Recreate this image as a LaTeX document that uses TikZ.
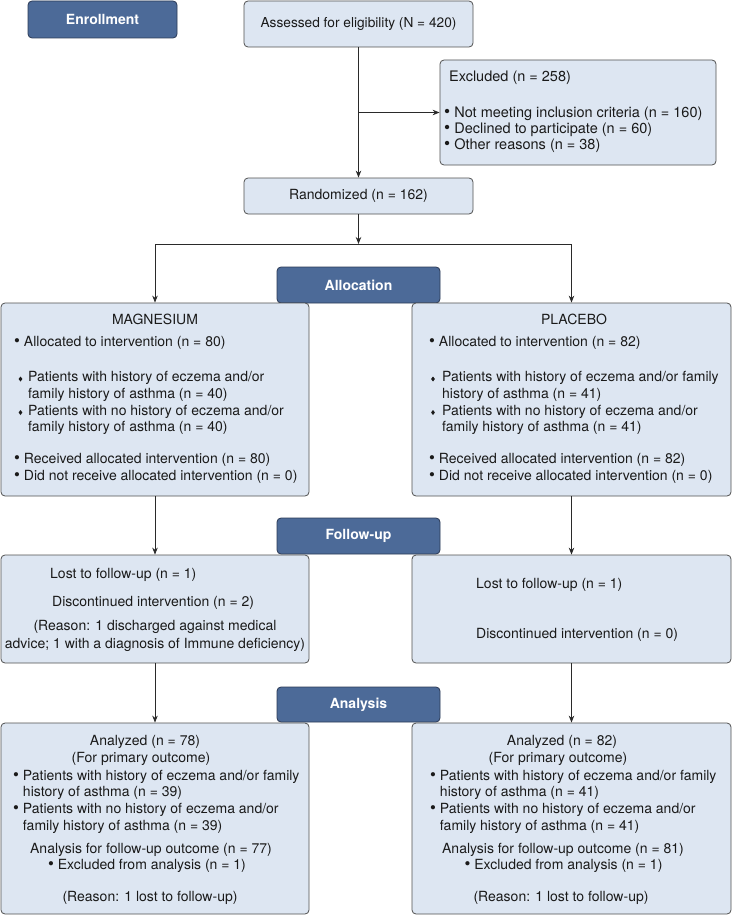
\documentclass[tikz,border=0pt]{standalone}
\usepackage{fontspec}
\setmainfont{TeX Gyre Heros}
\usetikzlibrary{arrows.meta}
\definecolor{hdrfill}{HTML}{4C6A98}
\definecolor{hdrdraw}{HTML}{2B3A55}
\definecolor{boxfill}{HTML}{DDE6F2}
\definecolor{boxdraw}{HTML}{505050}
\definecolor{txtc}{HTML}{1A1A1A}
\definecolor{linec}{HTML}{2A2A2A}
\newcommand{\fs}{\fontsize{14}{16}\selectfont}
\newcommand{\fsx}{\fontsize{14.5}{16}\selectfont}
\newcommand{\bul}{\raisebox{-0.02em}{\scalebox{1.2}{\textbullet}}\ }
\newcommand{\hang}{\phantom{\bul}}
\newcommand{\dm}[2]{\fill[txtc] (#1,#2) +(0,-2.5) -- +(1.9,0) -- +(0,2.5) -- +(-1.9,0) -- cycle;}
\begin{document}
\begin{tikzpicture}[x=1pt,y=-1pt,
  hdr/.style={draw=hdrdraw, fill=hdrfill, rounded corners=4pt, line width=0.8pt, text=white, font=\fs\bfseries, inner sep=0pt},
  lbox/.style={draw=boxdraw, fill=boxfill, rounded corners=4pt, line width=0.8pt, inner sep=0pt, font=\fs, text=txtc},
  tx/.style={inner sep=0pt, text height=10pt, text depth=3pt, font=\fs, text=txtc},
  arr/.style={draw=linec, line width=0.8pt, -{Stealth[length=7pt,width=5.5pt]}},
  ln/.style={draw=linec, line width=0.8pt}]
\useasboundingbox (0,0) rectangle (732,915);

% headers
\node[hdr, minimum width=149pt, minimum height=37pt] (enr) at (102.5,19.5) {Enrollment};
\node[hdr, minimum width=163pt, minimum height=36pt] (alloc) at (358.5,285) {Allocation};
\node[hdr, minimum width=163pt, minimum height=36pt] (fuh) at (358.5,536) {Follow-up};
\node[hdr, minimum width=163pt, minimum height=35pt] (anh) at (358.5,704.5) {Analysis};

% top boxes
\node[lbox, minimum width=229pt, minimum height=46pt, font=\fontsize{13.7}{16}\selectfont] (ass) at (358.5,24) {Assessed for eligibility (N = 420)};
\node[lbox, minimum width=276pt, minimum height=105pt] (exc) at (578,112.5) {};
\node[lbox, minimum width=229pt, minimum height=36pt] (rand) at (358.5,196) {Randomized (n = 162)};

% group boxes
\node[lbox, minimum width=308pt, minimum height=193pt] (mag) at (155,399.5) {};
\node[lbox, minimum width=319pt, minimum height=193pt] (plac) at (571.5,399.5) {};
\node[lbox, minimum width=308pt, minimum height=108pt] (ful) at (155,609) {};
\node[lbox, minimum width=319pt, minimum height=108pt] (fur) at (571.5,609) {};
\node[lbox, minimum width=308pt, minimum height=191pt] (anl) at (155,818.5) {};
\node[lbox, minimum width=319pt, minimum height=191pt] (anr) at (571.5,818.5) {};

% excluded text
\node[tx, font=\fsx, anchor=west] (e1) at (449,78) {Excluded (n = 258)};
\node[tx, font=\fsx, anchor=west] (e2) at (444,114) {\bul Not meeting inclusion criteria (n = 160)};
\node[tx, font=\fsx, anchor=west] (e3) at (444,130) {\bul Declined to participate (n = 60)};
\node[tx, font=\fsx, anchor=west] (e4) at (444,146) {\bul Other reasons (n = 38)};

% magnesium text
\node[tx] (m0) at (155,321) {MAGNESIUM};
\node[tx, anchor=west] (m1) at (14,343) {\bul Allocated to intervention (n = 80)};
\dm{20.5}{379}
\node[tx, anchor=west] (m2) at (28,378) {Patients with history of eczema and/or};
\node[tx, anchor=west] (m3) at (28,395) {family history of asthma (n = 40)};
\dm{20.5}{412.5}
\node[tx, anchor=west] (m4) at (28,412) {Patients with no history of eczema and/or};
\node[tx, anchor=west] (m5) at (28,428) {family history of asthma (n = 40)};
\node[tx, anchor=west] (m6) at (14,460) {\bul Received allocated intervention (n = 80)};
\node[tx, anchor=west] (m7) at (14,477) {\bul Did not receive allocated intervention (n = 0)};

% placebo text
\node[tx] (p0) at (574,321) {PLACEBO};
\node[tx, anchor=west] (p1) at (429,343) {\bul Allocated to intervention (n = 82)};
\dm{433}{379}
\node[tx, anchor=west] (p2) at (442,378) {Patients with history of eczema and/or family};
\node[tx, anchor=west] (p3) at (442,395) {history of asthma (n = 41)};
\dm{433}{412.5}
\node[tx, anchor=west] (p4) at (442,412) {Patients with no history of eczema and/or};
\node[tx, anchor=west] (p5) at (442,428) {family history of asthma (n = 41)};
\node[tx, anchor=west] (p6) at (429,460) {\bul Received allocated intervention (n = 82)};
\node[tx, anchor=west] (p7) at (429,477) {\bul Did not receive allocated intervention (n = 0)};

% follow-up text
\node[tx, anchor=west] (f1) at (50,575) {Lost to follow-up (n = 1)};
\node[tx, anchor=west] (f2) at (52,603) {Discontinued intervention (n = 2)};
\node[tx] (f3) at (155,627) {(Reason: 1 discharged against medical};
\node[tx] (f4) at (155,645) {advice; 1 with a diagnosis of Immune deficiency)};
\node[tx, anchor=west] (g1) at (476,585) {Lost to follow-up (n = 1)};
\node[tx, anchor=west] (g2) at (476,635) {Discontinued intervention (n = 0)};

% analysis left
\node[tx] (a1) at (145,742) {Analyzed (n = 78)};
\node[tx] (a2) at (141,759) {(For primary outcome)};
\node[tx, anchor=west] (a3) at (13,777) {\bul Patients with history of eczema and/or family};
\node[tx, anchor=west] (a4) at (13,793) {\hang history of asthma (n = 39)};
\node[tx, anchor=west] (a5) at (13,810) {\bul Patients with no history of eczema and/or};
\node[tx, anchor=west] (a6) at (13,827) {\hang family history of asthma (n = 39)};
\node[tx] (a7) at (151,850) {Analysis for follow-up outcome (n = 77)};
\node[tx] (a8) at (147,866) {\bul Excluded from analysis (n = 1)};
\node[tx] (a9) at (150,898) {(Reason: 1 lost to follow-up)};

% analysis right
\node[tx] (b1) at (562,742) {Analyzed (n = 82)};
\node[tx] (b2) at (558,759) {(For primary outcome)};
\node[tx, anchor=west] (b3) at (430,777) {\bul Patients with history of eczema and/or family};
\node[tx, anchor=west] (b4) at (430,793) {\hang history of asthma (n = 41)};
\node[tx, anchor=west] (b5) at (430,810) {\bul Patients with no history of eczema and/or};
\node[tx, anchor=west] (b6) at (430,827) {\hang family history of asthma (n = 41)};
\node[tx] (b7) at (563,850) {Analysis for follow-up outcome (n = 81)};
\node[tx] (b8) at (563.5,866) {\bul Excluded from analysis (n = 1)};
\node[tx] (b9) at (561,898) {(Reason: 1 lost to follow-up)};

% connectors
\draw[arr] (ass.south) -- (rand.north);
\coordinate (br) at (358.5,112.5);
\draw[arr] (br) -- (exc.west);
\coordinate (split) at (358.5,244);
\coordinate (sl) at (155,244);
\coordinate (sr) at (571.5,244);
\draw[arr] (rand.south) -- (split);
\draw[ln] (sl) -- (sr);
\draw[arr] (sl) -- (mag.north);
\draw[arr] (sr) -- (plac.north);
\draw[arr] (mag.south) -- (ful.north);
\draw[arr] (plac.south) -- (fur.north);
\draw[arr] (ful.south) -- (anl.north);
\draw[arr] (fur.south) -- (anr.north);
\end{tikzpicture}
\end{document}
